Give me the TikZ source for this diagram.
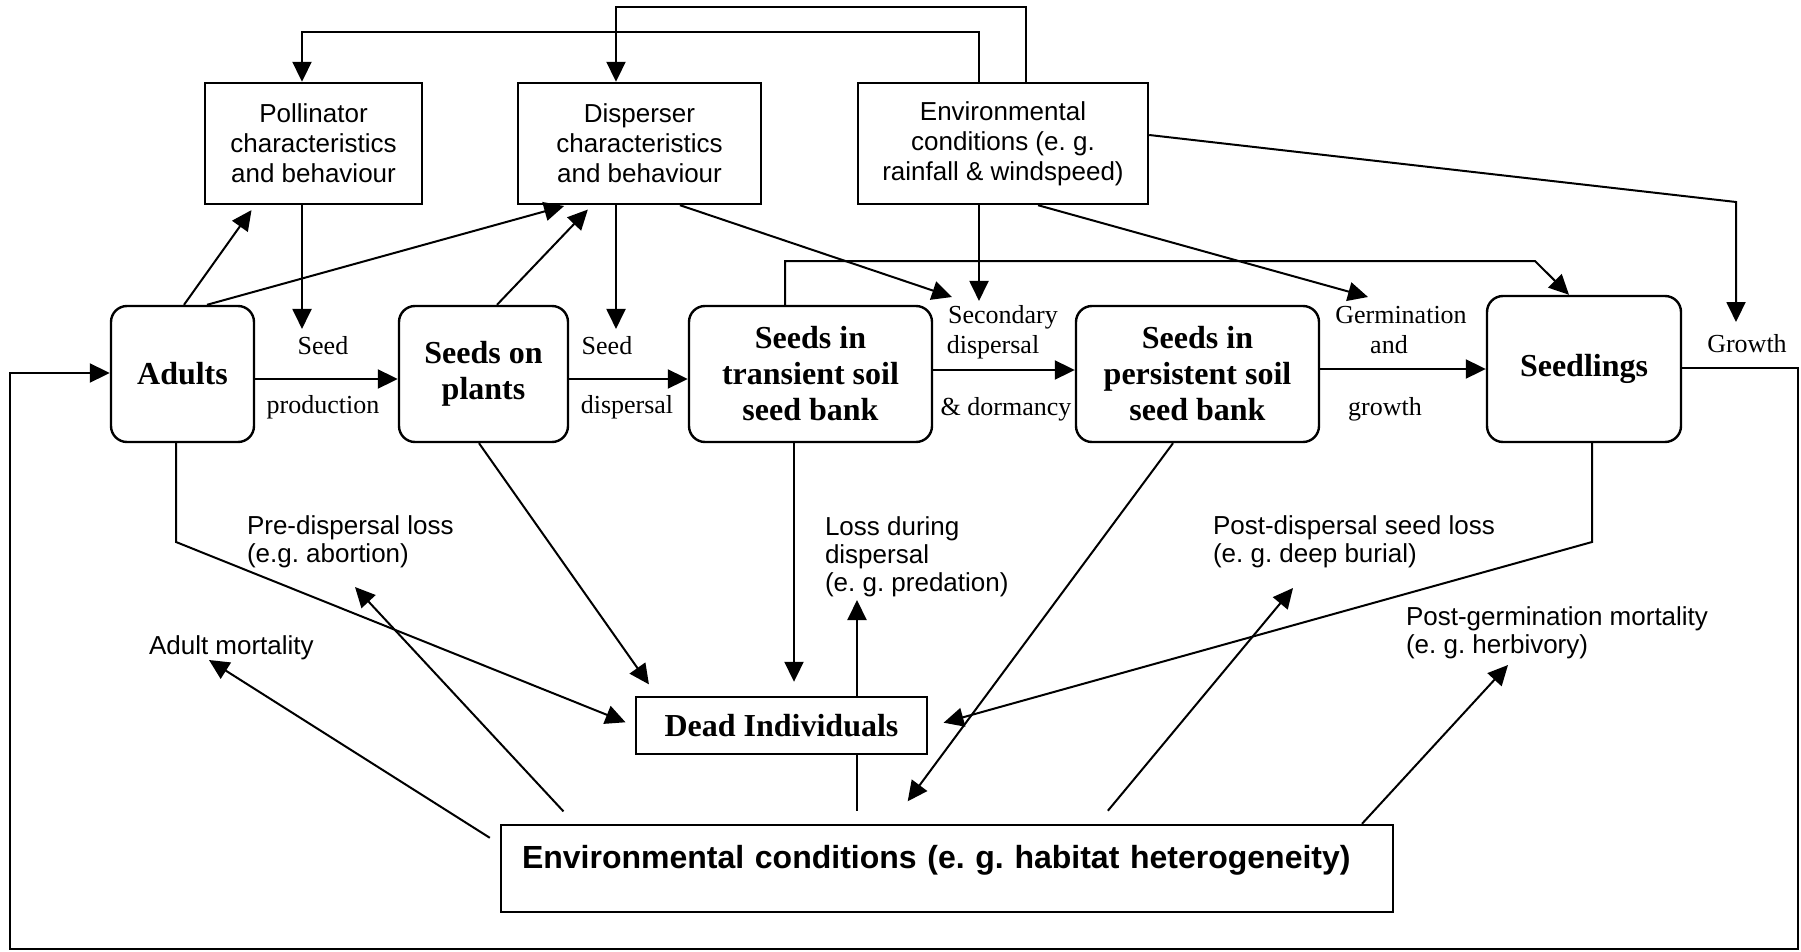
\documentclass[tikz,border=0pt]{standalone}
\usepackage{fontspec}
\setmainfont{Liberation Serif}
\setsansfont{Liberation Sans}
\usetikzlibrary{arrows.meta,calc}
\frenchspacing
\begin{document}
\begin{tikzpicture}[x=1pt,y=-1pt,line width=2pt,
  arr/.style={-{Triangle[length=20pt,width=19pt]}},
  topbox/.style={draw,line width=2.4pt,font=\sffamily\fontsize{26}{30}\selectfont,align=center,inner sep=0pt,minimum height=121pt},
  mainbox/.style={draw,rounded corners=16pt,line width=2.4pt,font=\bfseries\fontsize{32}{36}\selectfont,align=center,inner sep=0pt},
  slab/.style={font=\fontsize{26}{28}\selectfont,inner sep=0pt,anchor=base},
  sflab/.style={font=\sffamily\fontsize{26}{28}\selectfont,inner sep=0pt,align=left,anchor=base west}]
\useasboundingbox (0,0) rectangle (1801,952);
% top boxes
\node[topbox,minimum width=217pt] (poll) at (313.5,143.5) {Pollinator\\characteristics\\and behaviour};
\node[topbox,minimum width=243pt] (disp) at (639.5,143.5) {Disperser\\characteristics\\and behaviour};
\node[topbox,minimum width=290pt] (envt) at (1003,143.5) {Environmental\\conditions (e. g.\\rainfall \& windspeed)};
% main row
\node[mainbox,minimum width=143pt,minimum height=136pt] (adults) at (182.5,374) {Adults};
\node[mainbox,minimum width=169pt,minimum height=136pt] (sop) at (483.5,374) {Seeds on\\plants};
\node[mainbox,minimum width=243pt,minimum height=136pt] (trans) at (810.5,374) {Seeds in\\transient soil\\seed bank};
\node[mainbox,minimum width=243pt,minimum height=136pt] (pers) at (1197.5,374) {Seeds in\\persistent soil\\seed bank};
\node[mainbox,minimum width=194pt,minimum height=146pt] (seedl) at (1584,369) {Seedlings};
% bottom boxes
\node[draw,line width=2.4pt,minimum width=291pt,minimum height=57pt,inner sep=0pt,font=\bfseries\fontsize{32}{36}\selectfont] (dead) at (781.5,725.5) {Dead Individuals};
\node[draw,line width=2.4pt,text width=850pt,inner xsep=21pt,inner ysep=0pt,text height=43.5pt,text depth=43.5pt,align=left,font=\sffamily\bfseries\fontsize{32}{36}\selectfont] (envb) at (947,868.5) {Environmental conditions (e. g. habitat heterogeneity)};
% serif labels
\node[slab] (lseed1) at (323,354) {Seed};
\node[slab] (lprod) at (323,413) {production};
\node[slab] (lseed2) at (607,354) {Seed};
\node[slab] (ldisp) at (627,413) {dispersal};
\node[slab] (lsec) at (1003,323) {Secondary};
\node[slab] (lsec2) at (993,353) {dispersal};
\node[slab] (ldorm) at (1006,415) {\& dormancy};
\node[slab] (lgerm) at (1401,323) {Germination};
\node[slab] (land) at (1389,353) {and};
\node[slab] (lgrowth) at (1385,415) {growth};
\node[slab] (lGrowth) at (1747,352) {Growth};
% sans labels (anchored at the baseline of the last line)
\node[sflab] (lpre) at (246,562) {Pre-dispersal loss\\(e.g. abortion)};
\node[sflab] (lloss) at (824,591) {Loss during\\dispersal\\(e. g. predation)};
\node[sflab] (ladult) at (148,654) {Adult mortality};
\node[sflab] (lpostd) at (1212,562) {Post-dispersal seed loss\\(e. g. deep burial)};
\node[sflab] (lpostg) at (1405,653) {Post-germination mortality\\(e. g. herbivory)};
% free ends
\coordinate (tSecA) at (952,297);
\coordinate (tGerm) at (1368,297);
\coordinate (tGrowth) at (1736,322);
\coordinate (tLoss) at (857,600);
\coordinate (tAdult) at (209,660);
\coordinate (tPre) at (355,587);
\coordinate (tPostD) at (1293,588);
\coordinate (tPostG) at (1508,665);
% top feedback lines
\draw[arr] (envt.north -| 1026,0) |- (616,7) -- (disp.north -| 616,0);
\draw[arr] (envt.north -| 979,0) |- (302,32) -- (poll.north -| 302,0);
% upward arrows
\draw[arr,shorten >=6pt] (adults.north -| 184,0) -- (poll.south -| 255,0);
\draw[arr,shorten >=3pt] (adults.north -| 207,0) -- (disp.south -| 567,0);
\draw[arr,shorten >=6pt] (sop.north -| 497,0) -- (disp.south -| 592,0);
% downward arrows from top boxes
\draw[arr,shorten >=6pt] (poll.south -| 302,0) -- (lseed1.north -| 302,0);
\draw[arr,shorten >=6pt] (disp.south -| 616,0) -- (lseed2.north -| 616,0);
\draw[arr] (disp.south -| 680,0) -- (tSecA);
\draw[arr,shorten >=3pt] (envt.south -| 979,0) -- (lsec.north -| 979,0);
\draw[arr] (envt.south -| 1038,0) -- (tGerm);
\draw[arr] (envt.east |- 0,135) -- (1736,202) -- (tGrowth);
\draw[arr] (trans.north -| 785,0) |- (1535,261) -- (seedl.north -| 1569,0);
% main horizontal flow
\draw[arr] (adults.east |- 0,379) -- (sop.west |- 0,379);
\draw[arr] (sop.east |- 0,379) -- (trans.west |- 0,379);
\draw[arr] (trans.east |- 0,370) -- (pers.west |- 0,370);
\draw[arr] (pers.east |- 0,369) -- (seedl.west |- 0,369);
\draw[arr] (seedl.east |- 0,368) -| (1798,949) -| (10,373) -- (adults.west |- 0,373);
% losses to dead
\draw[arr,shorten >=10pt] (adults.south -| 176,0) -- (176,542) -- (dead.west |- 0,726);
\draw[arr,shorten >=14pt] (sop.south -| 479,0) -- (dead.north -| 657,0);
\draw[arr,shorten >=14pt] (trans.south -| 794,0) -- (dead.north -| 794,0);
\draw[arr,shorten >=16pt] (seedl.south -| 1592,0) -- (1592,542) -- (dead.east |- 0,727);
\draw[arr,shorten >=28pt] (pers.south -| 1173,0) -- (envb.north -| 891,0);
\draw[arr] (dead.north -| 857,0) -- (tLoss);
\draw[shorten <=13pt] (envb.north -| 857,0) -- (dead.south -| 857,0);
% environment effects
\draw[arr] ($(envb.north west)+(-10,14)$) -- (tAdult);
\draw[arr,shorten <=17pt] (envb.north -| 575,0) -- (tPre);
\draw[arr,shorten <=17pt] (envb.north -| 1097,0) -- (tPostD);
\draw[arr] (envb.north -| 1362,0) -- (tPostG);
\end{tikzpicture}
\end{document}
